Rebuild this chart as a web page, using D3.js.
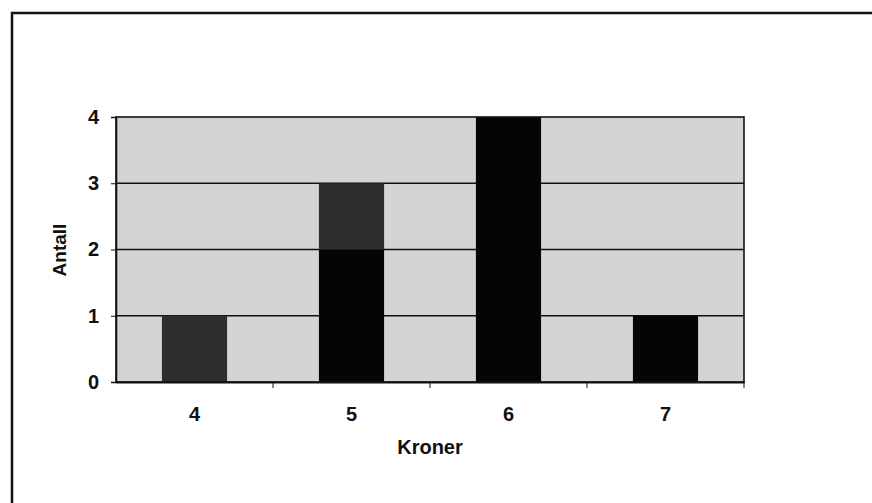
<!DOCTYPE html>
<html>
<head>
<meta charset="utf-8">
<script src="https://cdn.jsdelivr.net/npm/d3@7"></script>
<style>
  body { margin: 0; background: #fff; }
  text { font-family: "Liberation Sans", Arial, sans-serif; font-weight: bold; fill: #111; }
</style>
</head>
<body>
<div id="chart"></div>
<script>
// data
var kroner = ["4", "5", "6", "7"];
var blackPart = [0, 2, 4, 1];
var greyPart = [1, 1, 0, 0];
var yTicks = [0, 1, 2, 3, 4];

var svgWidth = 872;
var svgHeight = 503;

var margin = { top: 117, right: 128, bottom: 121, left: 116 };
var width = svgWidth - margin.left - margin.right;
var height = svgHeight - margin.top - margin.bottom;

var svg = d3.select("#chart")
  .append("svg")
  .attr("width", svgWidth)
  .attr("height", svgHeight);

// outer frame, only top and left edges fall inside the window
svg.append("rect")
  .attr("x", 12).attr("y", 13)
  .attr("width", 900).attr("height", 600)
  .attr("fill", "none")
  .attr("stroke", "#111")
  .attr("stroke-width", 2.5);

var chartGroup = svg.append("g")
  .attr("transform", `translate(${margin.left}, ${margin.top})`);

var xScale = d3.scaleBand()
  .domain(kroner)
  .range([0, width])
  .paddingInner(0.585)
  .paddingOuter(0.2925);

var yScale = d3.scaleLinear()
  .domain([0, 4])
  .range([height, 0]);

// plot background
chartGroup.append("rect")
  .attr("width", width)
  .attr("height", height)
  .attr("fill", "#d4d4d4");

// gridlines
chartGroup.selectAll(".grid")
  .data(yTicks.filter(d => d > 0 && d < 4))
  .enter()
  .append("line")
  .attr("x1", 0).attr("x2", width)
  .attr("y1", d => yScale(d)).attr("y2", d => yScale(d))
  .attr("stroke", "#111")
  .attr("stroke-width", 1.6);

// stacked bars
var rows = kroner.map(function(k, i) {
  return { k: k, black: blackPart[i], grey: greyPart[i] };
});

chartGroup.selectAll(".barBlack")
  .data(rows.filter(d => d.black > 0))
  .enter()
  .append("rect")
  .attr("x", d => xScale(d.k))
  .attr("width", xScale.bandwidth())
  .attr("y", d => yScale(d.black))
  .attr("height", d => yScale(0) - yScale(d.black))
  .attr("fill", "#050505");

chartGroup.selectAll(".barGrey")
  .data(rows.filter(d => d.grey > 0))
  .enter()
  .append("rect")
  .attr("x", d => xScale(d.k))
  .attr("width", xScale.bandwidth())
  .attr("y", d => yScale(d.black + d.grey))
  .attr("height", d => yScale(d.black) - yScale(d.black + d.grey))
  .attr("fill", "#2e2e2e");

// plot border
chartGroup.append("rect")
  .attr("width", width)
  .attr("height", height)
  .attr("fill", "none")
  .attr("stroke", "#111")
  .attr("stroke-width", 1.6);

// y axis
var leftAxis = d3.axisLeft(yScale)
  .tickValues(yTicks)
  .tickFormat(d3.format("d"))
  .tickSize(5)
  .tickPadding(12);

var yAxis = chartGroup.append("g").call(leftAxis);
yAxis.select(".domain").attr("stroke", "#111").attr("stroke-width", 1.6);
yAxis.selectAll("line").attr("stroke", "#111");
yAxis.selectAll("text").attr("font-size", 20).attr("font-family", null);

// x axis: ticks sit on category boundaries
var bottomAxis = d3.axisBottom(xScale).tickSize(0).tickPadding(25);
var xAxis = chartGroup.append("g")
  .attr("transform", `translate(0, ${height})`)
  .call(bottomAxis);
xAxis.select(".domain").attr("stroke", "#111").attr("stroke-width", 2.2);
xAxis.selectAll("text").attr("font-size", 20).attr("font-family", null);

var step = xScale.step();
chartGroup.selectAll(".xtick")
  .data(kroner.slice(1).concat(["end"]))
  .enter()
  .append("line")
  .attr("x1", (d, i) => (i + 1) * step)
  .attr("x2", (d, i) => (i + 1) * step)
  .attr("y1", height)
  .attr("y2", height + 6)
  .attr("stroke", "#111");

// axis titles
chartGroup.append("text")
  .attr("transform", "rotate(-90)")
  .attr("x", -133)
  .attr("y", -50)
  .attr("text-anchor", "middle")
  .attr("font-size", 19)
  .text("Antall");

chartGroup.append("text")
  .attr("x", width / 2)
  .attr("y", height + 72)
  .attr("text-anchor", "middle")
  .attr("font-size", 20)
  .text("Kroner");
</script>
</body>
</html>
